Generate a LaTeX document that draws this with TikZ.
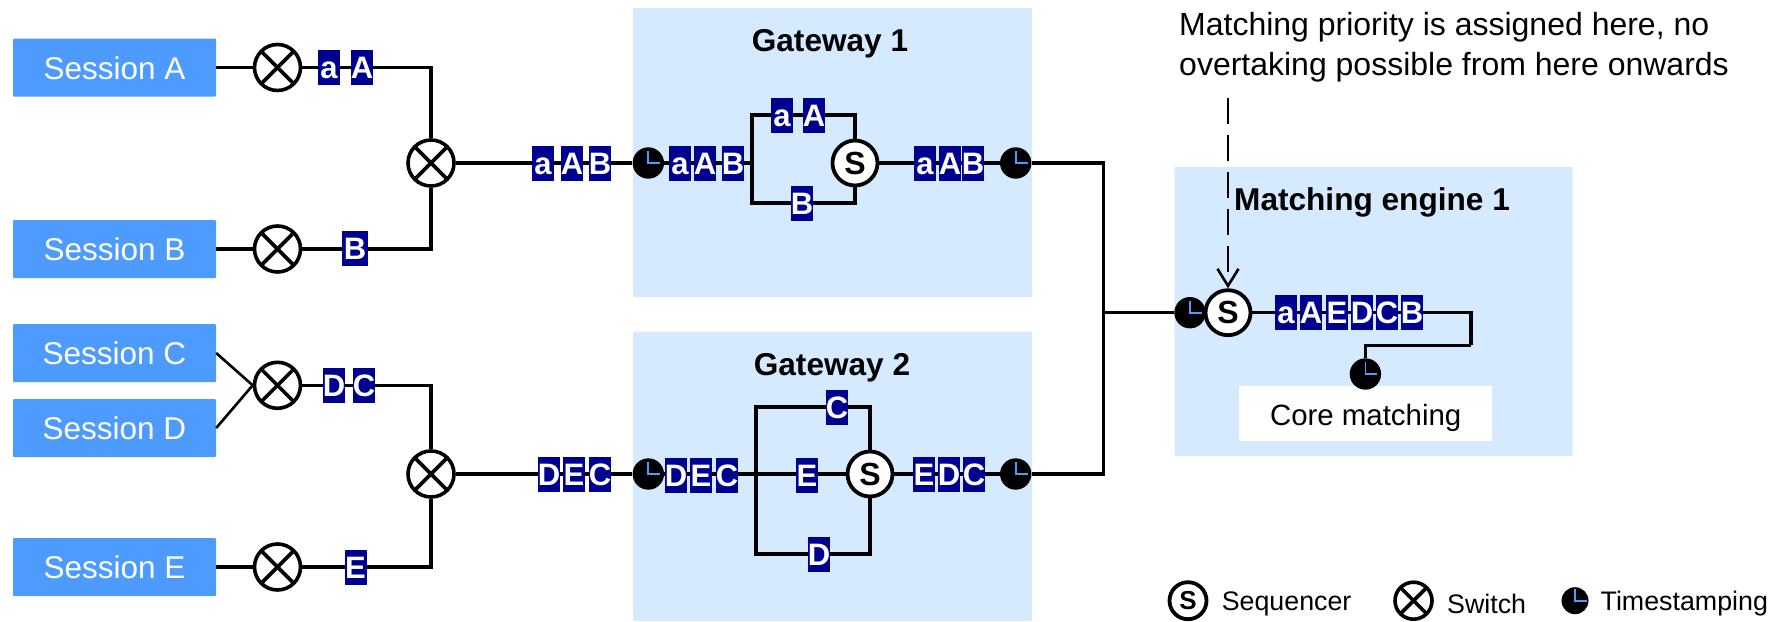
\documentclass[tikz,border=0pt]{standalone}
\usepackage{fontspec}
\setmainfont{Liberation Sans}
\usepackage{tikz}
\usetikzlibrary{arrows.meta}
\definecolor{sessionblue}{HTML}{4E9BFF}
\definecolor{paleblue}{HTML}{D5E9FF}
\definecolor{navy}{HTML}{000090}

\begin{document}
\begin{tikzpicture}[x=1pt,y=-1pt,
    wire/.style={line width=3.4pt},
    session/.style={fill=sessionblue,text=white,rounded corners=1pt,minimum width=203pt,minimum height=58pt,inner sep=0pt,text height=23pt,text depth=0pt,font=\fontsize{31.5}{36}\selectfont},
    panel/.style={fill=paleblue,rounded corners=1pt,inner sep=0pt},
    paneltitle/.style={font=\fontsize{31.6}{38}\selectfont\bfseries,inner sep=0pt},
    badge/.style={fill=navy,text=white,inner sep=0pt,minimum width=22pt,minimum height=35pt,text height=22pt,text depth=0pt,font=\fontsize{31}{36}\selectfont\bfseries},
    switch/.style={circle,draw,line width=3.6pt,fill=white,inner sep=0pt,minimum size=46pt,
      path picture={\draw[line width=3.6pt] (path picture bounding box.north west) -- (path picture bounding box.south east);
        \draw[line width=3.6pt] (path picture bounding box.north east) -- (path picture bounding box.south west);}},
    sequencer/.style={circle,draw,line width=3.8pt,fill=white,inner sep=0pt,minimum size=45pt,font=\fontsize{32}{36}\selectfont\bfseries},
    stamp/.style={circle,fill=black,inner sep=0pt,minimum size=31.4pt,
      path picture={\draw[sessionblue,line width=1.8pt] ([yshift=12pt]path picture bounding box.center) -- (path picture bounding box.center) -- ([xshift=12pt]path picture bounding box.center);}},
    legendtext/.style={anchor=west,inner sep=0pt,font=\fontsize{26.8}{32}\selectfont}]
    \useasboundingbox (0,0) rectangle (1780,621);
    % Draw the panels behind everything
    \node[panel,minimum width=399pt,minimum height=289pt] (gatewayA) at (832.5,152.5) {};
    \node[panel,minimum width=399pt,minimum height=289.3pt] (gatewayB) at (832.5,476.3) {};
    \node[panel,minimum width=398pt,minimum height=289pt] (engine) at (1373.6,311.5) {};
    \node[paneltitle] (titleA) at (830,44) {Gateway 1};
    \node[paneltitle] (titleB) at (832,367.5) {Gateway 2};
    \node[paneltitle] (titleC) at (1372,202) {Matching engine 1};
    \node[fill=white,minimum width=253.5pt,minimum height=54.7pt,inner sep=0pt,text height=24pt,text depth=0pt,font=\fontsize{29.4}{34}\selectfont] (core) at (1365.7,413.3) {Core matching};
    % Draw the sessions and the switches
    \foreach \t/\y in {A/67.5, B/249, C/353, D/428, E/567}{
      \node[session] (session\t) at (114.5,\y) {Session \t};
    }
    \foreach \t/\y in {A/67.5, B/249, C/385.3, E/567}{
      \node[switch] (sw\t) at (277.5,\y) {};
    }
    \node[switch] (mergeA) at (431,163) {};
    \node[switch] (mergeB) at (431,474) {};
    % Draw the timestamps and the sequencers
    \node[stamp] (stampA) at (648.3,163) {};
    \node[stamp] (stampB) at (1015.7,163) {};
    \node[stamp] (stampC) at (648.3,474) {};
    \node[stamp] (stampD) at (1015.7,474) {};
    \node[stamp] (stampE) at (1190,312.7) {};
    \node[stamp] (stampF) at (1365.4,374) {};
    \node[sequencer] (seqA) at (855,163) {S};
    \node[sequencer] (seqB) at (870,474) {S};
    \node[sequencer] (seqC) at (1228,312.7) {S};
    % Corners of the wires
    \coordinate (forkA) at (752,163);
    \coordinate (upA) at (855,115);
    \coordinate (lowA) at (855,203);
    \coordinate (forkB) at (756,474);
    \coordinate (upB) at (870,407);
    \coordinate (lowB) at (870,554);
    \coordinate (joint) at (1103.3,312.7);
    \coordinate (bend) at (1470.8,345.3);
    \coordinate (hint) at (1228,98);
    % Draw the wires
    \foreach \t in {A,B,E}{
      \draw[wire] (session\t) -- (sw\t);
    }
    \draw[wire,line width=2.6pt] (sessionC.east) -- (swC.west);
    \draw[wire,line width=2.6pt] (sessionD.east) -- (swC.west);
    \draw[wire] (swA) -| (mergeA);
    \draw[wire] (swB) -| (mergeA);
    \draw[wire] (swC) -| (mergeB);
    \draw[wire] (swE) -| (mergeB);
    \draw[wire] (mergeA) -- (stampA);
    \draw[wire] (mergeB) -- (stampC);
    \draw[wire] (stampA) -- (forkA);
    \draw[wire] (forkA) |- (upA) -- (seqA);
    \draw[wire] (forkA) |- (lowA) -- (seqA);
    \draw[wire] (seqA) -- (stampB);
    \draw[wire] (stampC) -- (seqB);
    \draw[wire] (forkB) |- (upB) -- (seqB);
    \draw[wire] (forkB) |- (lowB) -- (seqB);
    \draw[wire] (seqB) -- (stampD);
    \draw[wire] (stampB) -| (joint);
    \draw[wire] (stampD) -| (joint);
    \draw[wire] (joint) -- (stampE);
    \draw[wire] (seqC) -| (bend);
    \draw[wire] (bend) -| (stampF);
    \draw[line width=2.6pt,dash pattern=on 26pt off 11pt,-{Straight Barb[length=17pt,width=21pt]}] (hint) -- (seqC);
    % Draw the small letter boxes on top of the wires
    \foreach \x/\y/\t [count=\i] in {329/67.5/a, 362/67.5/A, 543/163.5/a, 572/163.5/A, 600/163.5/B,
      680/163/a, 705/163/A, 733/163/B, 782/115/a, 814/115/A, 802/203/B, 925/163.5/a, 950/163.5/A, 973/163.5/B,
      334/385/D, 364/385/C, 549/474.5/D, 574/474.5/E, 600/474.5/C, 355.5/567.5/E,
      676/475/D, 701/475/E, 727/475/C, 837/407/C, 807/475/E, 819/554/D, 924/474/E, 949/474/D, 974/474/C,
      1286/312.5/a, 1311/312.5/A, 1337/312.5/E, 1362/312.5/D, 1387/312.5/C, 1412/312.5/B}{
      \node[badge] (letter\i) at (\x,\y) {\t};
    }
    \node[badge,minimum width=26pt] (letterB) at (355,248.5) {B};
    % Draw the note
    \node[anchor=west,align=left,inner sep=0pt,font=\fontsize{32}{40}\selectfont] (note) at (1179,47.5) {Matching priority is assigned here, no\\overtaking possible from here onwards};
    % Draw the legend
    \node[sequencer,minimum size=37pt,font=\fontsize{26}{30}\selectfont\bfseries] (legendS) at (1188,600.7) {S};
    \node[legendtext] (legendSeq) at (1221.6,603.5) {Sequencer};
    \node[switch,minimum size=37pt] (legendX) at (1413.5,600.7) {};
    \node[legendtext] (legendSw) at (1447,603.5) {Switch};
    \node[stamp,minimum size=27pt] (legendT) at (1575,600.7) {};
    \node[legendtext] (legendTime) at (1600.4,603.5) {Timestamping};
\end{tikzpicture}
\end{document}
